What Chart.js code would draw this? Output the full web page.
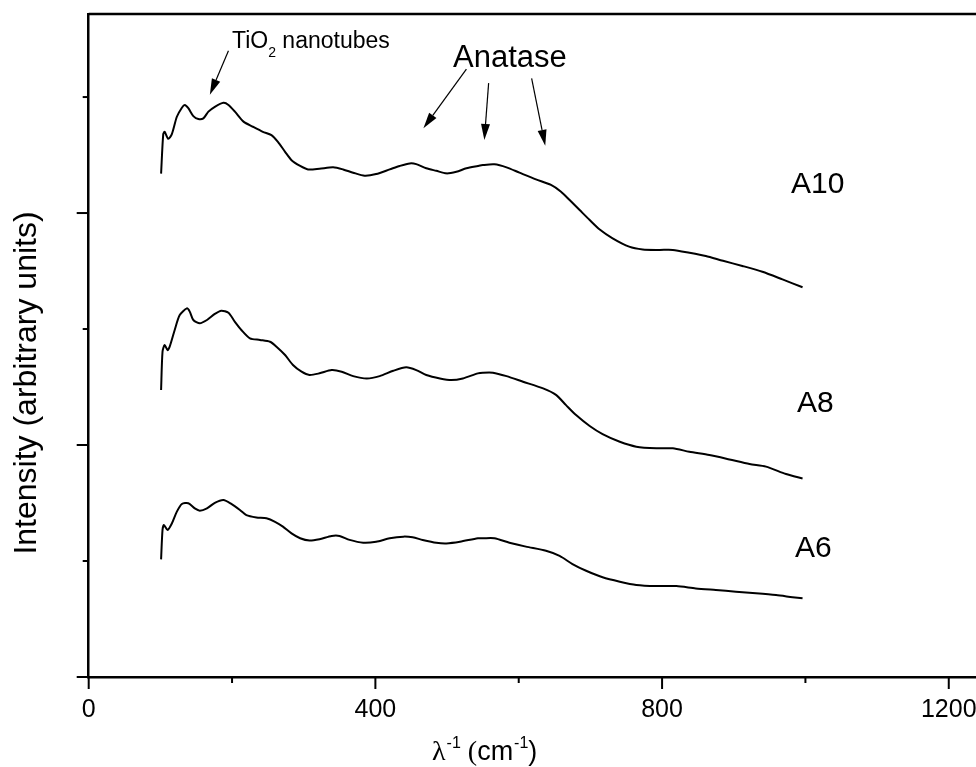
<!DOCTYPE html>
<html>
<head>
<meta charset="utf-8">
<script src="https://cdn.jsdelivr.net/npm/chart.js@4"></script>
<style>
  html, body { margin: 0; padding: 0; background: #fff; overflow: hidden; }
  #wrap { width: 976px; height: 767px; position: relative; }
</style>
</head>
<body>
<div id="wrap"><canvas id="ramanChart"></canvas></div>
<script>
// Raman spectra (intensity in arbitrary, offset units)
const a10X = [101,104,106,111,116,123,130,134,139,146,153,160,167,176,188,195,204,216,229,243,255,264,274,283,295,306,322,341,355,369,385,401,420,434,448,457,471,485,499,513,527,543,550,566,583,601,624,645,659,671,685,699,713,731,754,773,796,815,838,861,885,912,940,968,996];
const a10Y = [217,234,235,232,234,241.5,245.4,246.6,245.2,241.8,240.5,240.8,243.7,245.8,247.5,246.6,243.7,239.4,237.2,235,233.6,230.7,226.4,222.8,220.3,218.8,219.1,219.7,218.8,217.4,216.1,216.8,218.8,220.3,221.4,221.1,219.3,218.2,217.1,217.8,219.3,220.3,220.7,221,219.7,217.4,214.5,212.1,209.2,205.6,201.3,197,192.9,189.1,185.5,184.3,184.1,184.1,182.9,181.5,179.4,177.2,174.7,171.4,168];

const a8X = [101,103,106,110,113,120,127,137,141,146,155,165,176,185,195,204,213,225,239,253,262,274,285,297,308,322,339,353,369,388,406,425,443,457,471,490,506,522,543,550,564,583,606,634,652,666,680,699,717,741,764,792,815,838,866,894,922,945,973,996];
const a8Y = [123.7,140.2,143.1,140.9,142.4,149.6,156,158.9,157.5,153.9,152.5,153.9,156.5,157.9,157,153.1,149.6,146,145.3,144.5,142.4,138.8,134.5,131.6,130.2,130.9,132.3,131.6,129.7,128.7,129.7,132,133.5,132.3,130.2,128.7,128,128.7,130.9,131.2,131.2,129.7,127.3,124.4,121.6,117.2,112.9,108.2,104.7,101.4,99.3,98.6,98.6,97.1,95.7,93.8,91.8,90.7,87.5,85.6];

const a6X = [101,103,105,110,116,123,130,139,148,155,165,176,188,199,211,220,234,248,260,271,283,295,308,322,339,350,364,383,401,420,439,452,466,485,499,518,543,550,566,587,610,638,657,675,694,717,741,764,792,820,847,875,903,931,959,982,996];
const a6Y = [50.7,63.4,65.5,63.4,66.2,71.3,74.6,74.9,72.7,71.7,72.7,75.1,76.3,74.6,72,69.8,68.8,68.4,66.9,64.8,61.9,59.8,58.8,59.4,60.8,60.8,59.1,57.9,58.3,59.8,60.5,60.2,59.1,57.9,57.6,58.3,59.8,59.8,59.8,57.9,56.2,54.4,52.2,48.7,45.8,43,41.1,39.7,39.2,39.2,38.2,37.5,36.8,36.1,35.3,34.4,33.9];

const xMajor = [0, 400, 800, 1200];
const xMinor = [200, 600, 1000];
const yMajor = [0, 100, 200];
const yMinor = [50, 150, 250];

// arrows: [fromX, fromY, toX, toY] in data units
const arrows = [
  [195, 270, 169, 251],
  [527, 262, 467, 236.5],
  [558, 256, 552, 231.5],
  [618, 258, 637, 229]
];

const SANS = "'Liberation Sans', Arial, sans-serif";
const SERIF = "'Liberation Serif', 'Times New Roman', serif";

function zip(xs, ys) {
  return xs.map((x, i) => ({ x: x, y: ys[i] }));
}

function drawArrow(ctx, x1, y1, x2, y2) {
  const ang = Math.atan2(y2 - y1, x2 - x1);
  const len = 16, half = 4.5;
  const bx = x2 - len * Math.cos(ang), by = y2 - len * Math.sin(ang);
  ctx.beginPath();
  ctx.moveTo(x1, y1);
  ctx.lineTo(bx, by);
  ctx.stroke();
  ctx.beginPath();
  ctx.moveTo(x2, y2);
  ctx.lineTo(bx + half * Math.sin(ang), by - half * Math.cos(ang));
  ctx.lineTo(bx - half * Math.sin(ang), by + half * Math.cos(ang));
  ctx.closePath();
  ctx.fill();
}

const decorations = {
  id: 'decorations',
  afterDraw(chart) {
    const ctx = chart.ctx;
    const xs = chart.scales.x, ys = chart.scales.y;
    const area = chart.chartArea;
    ctx.save();
    ctx.strokeStyle = '#000';
    ctx.fillStyle = '#000';

    // frame top line
    ctx.lineWidth = 2.5;
    ctx.beginPath();
    ctx.moveTo(area.left, area.top);
    ctx.lineTo(area.right, area.top);
    ctx.stroke();

    // ticks
    ctx.lineWidth = 2;
    xMajor.forEach(v => { const p = xs.getPixelForValue(v); ctx.beginPath(); ctx.moveTo(p, area.bottom); ctx.lineTo(p, area.bottom + 12); ctx.stroke(); });
    xMinor.forEach(v => { const p = xs.getPixelForValue(v); ctx.beginPath(); ctx.moveTo(p, area.bottom); ctx.lineTo(p, area.bottom + 6); ctx.stroke(); });
    yMajor.forEach(v => { const p = ys.getPixelForValue(v); ctx.beginPath(); ctx.moveTo(area.left, p); ctx.lineTo(area.left - 12, p); ctx.stroke(); });
    yMinor.forEach(v => { const p = ys.getPixelForValue(v); ctx.beginPath(); ctx.moveTo(area.left, p); ctx.lineTo(area.left - 6, p); ctx.stroke(); });

    // arrows
    ctx.lineWidth = 1.2;
    arrows.forEach(a => drawArrow(ctx, xs.getPixelForValue(a[0]), ys.getPixelForValue(a[1]), xs.getPixelForValue(a[2]), ys.getPixelForValue(a[3])));

    // annotations
    ctx.textBaseline = 'alphabetic';
    ctx.textAlign = 'left';
    ctx.font = '23px ' + SANS;
    ctx.fillText('TiO', 232, 48);
    let w = ctx.measureText('TiO').width;
    ctx.font = '14px ' + SANS;
    ctx.fillText('2', 232 + w, 57);
    let w2 = ctx.measureText('2').width;
    ctx.font = '23px ' + SANS;
    ctx.fillText(' nanotubes', 232 + w + w2, 48);

    ctx.font = '31px ' + SANS;
    ctx.fillText('Anatase', 453, 67);

    ctx.font = '30px ' + SANS;
    ctx.fillText('A10', 791, 193);
    ctx.fillText('A8', 797, 412);
    ctx.fillText('A6', 795, 557);

    // x axis title: λ⁻¹ (cm⁻¹)
    let x = 432, y = 760;
    ctx.font = '28px ' + SERIF;
    ctx.fillText('\u03BB', x, y); x += ctx.measureText('\u03BB').width;
    ctx.font = '16px ' + SANS;
    ctx.fillText('-1', x + 1, y - 12); x += ctx.measureText('-1').width + 1;
    ctx.font = '28px ' + SERIF;
    ctx.fillText(' (', x, y); x += ctx.measureText(' (').width;
    ctx.font = '27px ' + SANS;
    ctx.fillText('cm', x, y); x += ctx.measureText('cm').width;
    ctx.font = '16px ' + SANS;
    ctx.fillText('-1', x + 1, y - 12); x += ctx.measureText('-1').width + 1;
    ctx.font = '27px ' + SANS;
    ctx.fillText(')', x, y);

    // y axis title
    ctx.translate(36, 383);
    ctx.rotate(-Math.PI / 2);
    ctx.textAlign = 'center';
    ctx.font = '32px ' + SANS;
    ctx.fillText('Intensity (arbitrary units)', 0, 0);
    ctx.restore();
  }
};

const lineStyle = {
  borderColor: '#000',
  borderWidth: 2,
  pointRadius: 0,
  tension: 0.25,
  fill: false
};

new Chart(document.getElementById('ramanChart'), {
  type: 'line',
  data: {
    datasets: [
      Object.assign({ label: 'A10', data: zip(a10X, a10Y) }, lineStyle),
      Object.assign({ label: 'A8', data: zip(a8X, a8Y) }, lineStyle),
      Object.assign({ label: 'A6', data: zip(a6X, a6Y) }, lineStyle)
    ]
  },
  plugins: [decorations],
  options: {
    responsive: true,
    maintainAspectRatio: false,
    animation: false,
    events: [],
    layout: { padding: { top: 14, right: 0, left: 0, bottom: 0 }, autoPadding: false },
    plugins: { legend: { display: false }, tooltip: { enabled: false } },
    scales: {
      x: {
        type: 'linear',
        min: 0,
        max: 1238,
        afterFit: s => { s.height = 90; s.paddingLeft = 0; s.paddingRight = 0; },
        afterBuildTicks: s => { s.ticks = xMajor.map(v => ({ value: v })); },
        grid: { display: false, drawTicks: false },
        border: { display: true, color: '#000', width: 2.5 },
        ticks: {
          color: '#000',
          padding: 18,
          maxRotation: 0,
          autoSkip: false,
          font: { family: SANS, size: 25 },
          callback: v => String(v)
        }
      },
      y: {
        type: 'linear',
        min: 0,
        max: 285.8,
        afterFit: s => { s.width = 88.7; s.paddingTop = 0; s.paddingBottom = 0; },
        grid: { display: false, drawTicks: false },
        border: { display: true, color: '#000', width: 2.5 },
        ticks: { display: false }
      }
    }
  }
});
</script>
</body>
</html>
